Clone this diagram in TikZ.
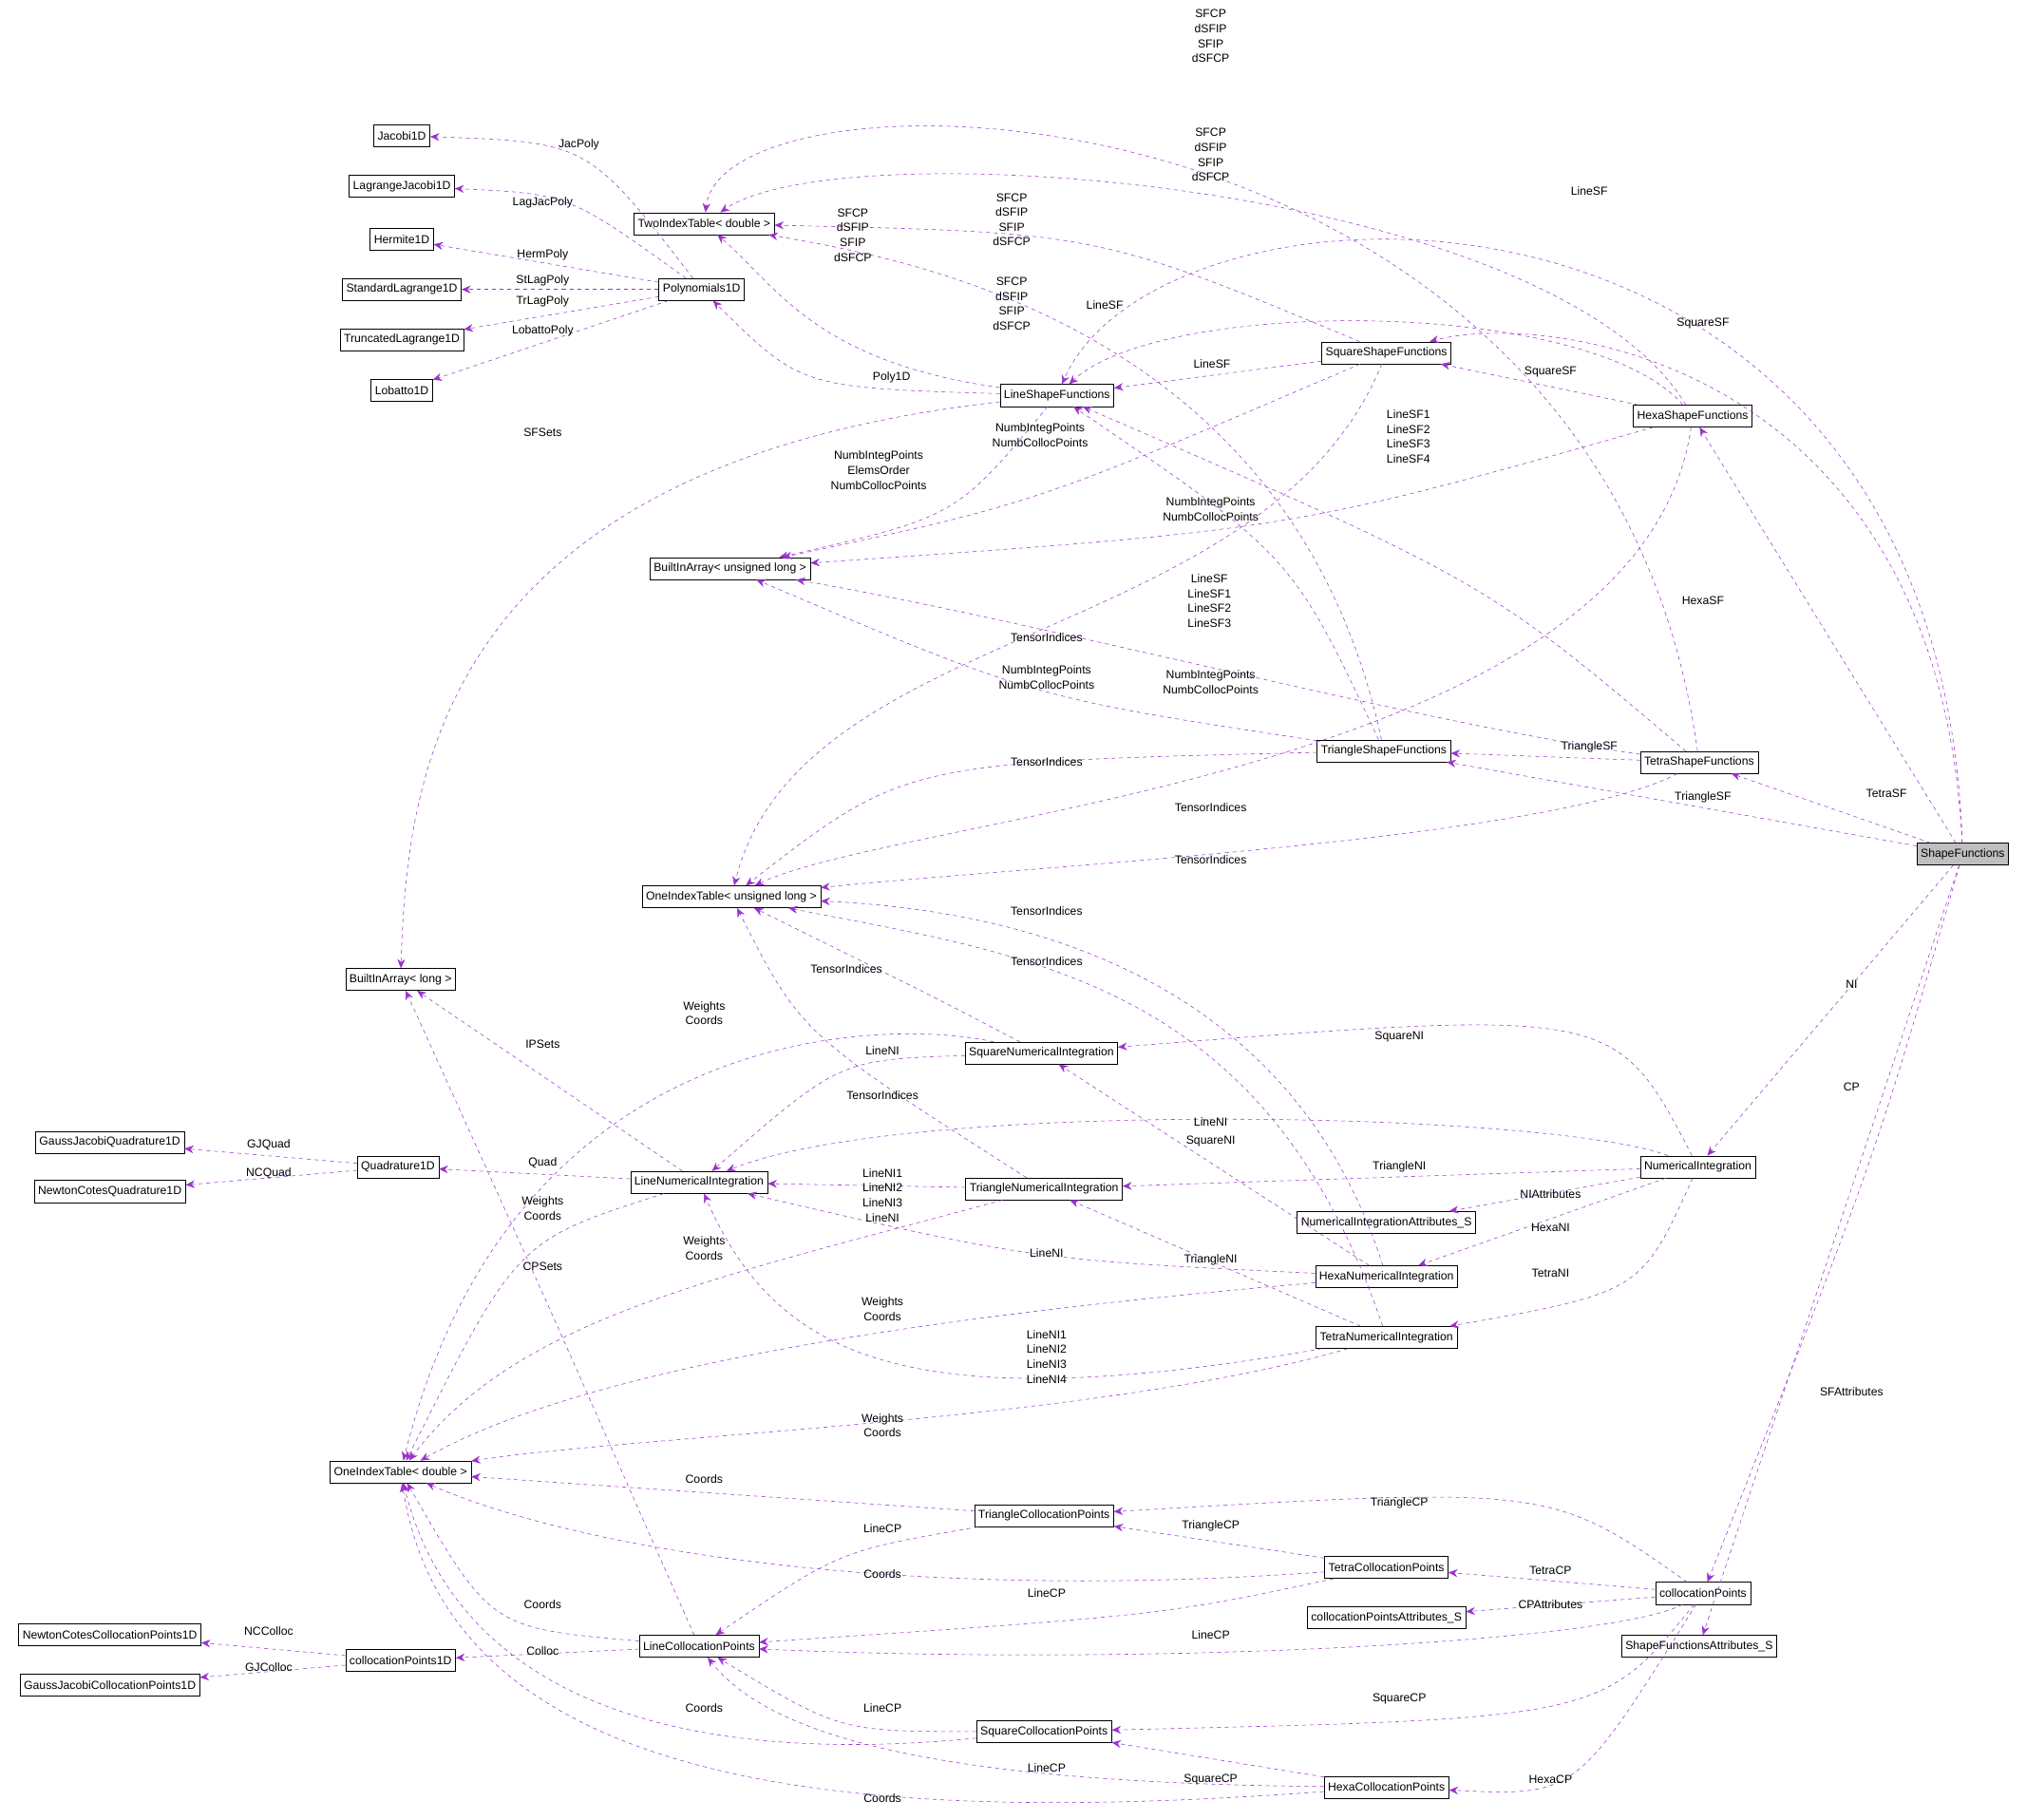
\documentclass[tikz,border=0pt]{standalone}
\usepackage{fontspec}
\setmainfont{Liberation Sans}
\usetikzlibrary{arrows.meta}
\definecolor{deppurple}{RGB}{154,50,205}
\tikzset{
  cls/.style={draw=black, fill=white, inner sep=3pt, minimum height=17pt, font=\fontsize{9}{11}\selectfont},
  dep/.style={draw=deppurple, dashed, -{Stealth[length=7pt,width=6pt,fill=deppurple]}},
  lbl/.style={font=\fontsize{9}{11.5}\selectfont, align=center, inner sep=1pt}
}
\begin{document}
\begin{tikzpicture}[x=1pt,y=-1pt]
  \useasboundingbox (0,0) rectangle (1568,1408);
  % classes
  \node[cls] (jac) at (311,105) {Jacobi1D};
  \node[cls] (lagj) at (311,144) {LagrangeJacobi1D};
  \node[cls] (herm) at (311,185) {Hermite1D};
  \node[cls] (stlag) at (311,224) {StandardLagrange1D};
  \node[cls] (trlag) at (311,263) {TruncatedLagrange1D};
  \node[cls] (lob) at (311,302) {Lobatto1D};
  \node[cls] (twoidx) at (545,173) {TwoIndexTable< double >};
  \node[cls] (poly) at (543,224) {Polynomials1D};
  \node[cls] (linesf) at (818,306) {LineShapeFunctions};
  \node[cls] (squaresf) at (1073,273) {SquareShapeFunctions};
  \node[cls] (hexasf) at (1310,322) {HexaShapeFunctions};
  \node[cls] (biaul) at (565,440) {BuiltInArray< unsigned long >};
  \node[cls] (trisf) at (1071,581) {TriangleShapeFunctions};
  \node[cls] (tetrasf) at (1315,590) {TetraShapeFunctions};
  \node[cls, fill=black!25] (sf) at (1519,661) {ShapeFunctions};
  \node[cls] (oiul) at (566,694) {OneIndexTable< unsigned long >};
  \node[cls] (bial) at (310,758) {BuiltInArray< long >};
  \node[cls] (squareni) at (806,815) {SquareNumericalIntegration};
  \node[cls] (gjq) at (85,884) {GaussJacobiQuadrature1D};
  \node[cls] (ncq) at (85,922) {NewtonCotesQuadrature1D};
  \node[cls] (quad) at (308,903) {Quadrature1D};
  \node[cls] (lineni) at (541,915) {LineNumericalIntegration};
  \node[cls] (triani) at (808,920) {TriangleNumericalIntegration};
  \node[cls] (ni) at (1314,903) {NumericalIntegration};
  \node[cls] (niattr) at (1073,946) {NumericalIntegrationAttributes\_S};
  \node[cls] (hexani) at (1073,988) {HexaNumericalIntegration};
  \node[cls] (tetrani) at (1073,1035) {TetraNumericalIntegration};
  \node[cls] (oid) at (310,1139) {OneIndexTable< double >};
  \node[cls] (tricp) at (808,1173) {TriangleCollocationPoints};
  \node[cls] (tetracp) at (1073,1213) {TetraCollocationPoints};
  \node[cls] (cp) at (1318,1233) {collocationPoints};
  \node[cls] (cpattr) at (1073,1252) {collocationPointsAttributes\_S};
  \node[cls] (sfattr) at (1315,1274) {ShapeFunctionsAttributes\_S};
  \node[cls] (nccp) at (85,1265) {NewtonCotesCollocationPoints1D};
  \node[cls] (cp1d) at (310,1285) {collocationPoints1D};
  \node[cls] (gjcp) at (85,1304) {GaussJacobiCollocationPoints1D};
  \node[cls] (linecp) at (541,1274) {LineCollocationPoints};
  \node[cls] (squarecp) at (808,1340) {SquareCollocationPoints};
  \node[cls] (hexacp) at (1073,1383) {HexaCollocationPoints};

  % polynomials
  \draw[dep] (poly) .. controls (455,110) .. (jac);
  \draw[dep] (poly) .. controls (440,150) .. (lagj);
  \draw[dep] (poly) -- (herm);
  \draw[dep] (poly) -- (stlag);
  \draw[dep] (poly) -- (trlag);
  \draw[dep] (poly) -- (lob);
  \node[lbl] (l1) at (448,112) {JacPoly};
  \node[lbl] (l2) at (420,157) {LagJacPoly};
  \node[lbl] (l3) at (420,197) {HermPoly};
  \node[lbl] (l4) at (420,217) {StLagPoly};
  \node[lbl] (l5) at (420,233) {TrLagPoly};
  \node[lbl] (l6) at (420,256) {LobattoPoly};

  % shape functions
  \draw[dep] (tetrasf) .. controls (1240,50) and (560,40) .. (twoidx);
  \draw[dep] (hexasf) .. controls (1200,140) and (650,100) .. (twoidx);
  \draw[dep] (squaresf) .. controls (850,180) .. (twoidx);
  \draw[dep] (trisf) .. controls (1000,250) and (700,200) .. (twoidx);
  \draw[dep] (linesf) .. controls (630,280) and (600,220) .. (twoidx);
  \node[lbl] at (937,28) {SFCP\\dSFIP\\SFIP\\dSFCP};
  \node[lbl] at (937,120) {SFCP\\dSFIP\\SFIP\\dSFCP};
  \node[lbl] at (783,170) {SFCP\\dSFIP\\SFIP\\dSFCP};
  \node[lbl] at (783,235) {SFCP\\dSFIP\\SFIP\\dSFCP};
  \node[lbl] at (660,182) {SFCP\\dSFIP\\SFIP\\dSFCP};
  \draw[dep] (sf) .. controls (1500,100) and (900,120) .. (linesf);
  \draw[dep] (squaresf) -- (linesf);
  \draw[dep] (hexasf) .. controls (1230,230) and (900,230) .. (linesf);
  \draw[dep] (tetrasf) .. controls (1150,450) .. (linesf);
  \draw[dep] (trisf) .. controls (1000,430) .. (linesf);
  \node[lbl] at (1230,148) {LineSF};
  \node[lbl] at (938,282) {LineSF};
  \node[lbl] at (855,236) {LineSF};
  \node[lbl] at (1090,338) {LineSF1\\LineSF2\\LineSF3\\LineSF4};
  \node[lbl] at (936,465) {LineSF\\LineSF1\\LineSF2\\LineSF3};
  \draw[dep] (sf) .. controls (1500,280) and (1200,240) .. (squaresf);
  \draw[dep] (hexasf) -- (squaresf);
  \draw[dep] (sf) -- (hexasf);
  \draw[dep] (sf) -- (trisf);
  \draw[dep] (tetrasf) -- (trisf);
  \draw[dep] (sf) -- (tetrasf);
  \node[lbl] at (1318,250) {SquareSF};
  \node[lbl] at (1200,288) {SquareSF};
  \node[lbl] at (1318,465) {HexaSF};
  \node[lbl] at (1318,617) {TriangleSF};
  \node[lbl] at (1230,578) {TriangleSF};
  \node[lbl] at (1460,614) {TetraSF};
  \draw[dep] (linesf) .. controls (620,300) .. (poly);
  \node[lbl] at (690,292) {Poly1D};
  \draw[dep] (linesf) .. controls (340,360) and (315,600) .. (bial);
  \node[lbl] at (420,335) {SFSets};

  % index arrays
  \draw[dep] (linesf) .. controls (740,400) .. (biaul);
  \draw[dep] (squaresf) .. controls (800,390) .. (biaul);
  \draw[dep] (hexasf) .. controls (1000,410) .. (biaul);
  \draw[dep] (trisf) .. controls (800,540) .. (biaul);
  \draw[dep] (tetrasf) .. controls (1100,560) and (800,480) .. (biaul);
  \node[lbl] at (680,364) {NumbIntegPoints\\ElemsOrder\\NumbCollocPoints};
  \node[lbl] at (805,337) {NumbIntegPoints\\NumbCollocPoints};
  \node[lbl] at (937,394) {NumbIntegPoints\\NumbCollocPoints};
  \node[lbl] at (810,524) {NumbIntegPoints\\NumbCollocPoints};
  \node[lbl] at (937,528) {NumbIntegPoints\\NumbCollocPoints};
  \draw[dep] (squaresf) .. controls (980,500) and (620,480) .. (oiul);
  \draw[dep] (trisf) .. controls (700,590) .. (oiul);
  \draw[dep] (hexasf) .. controls (1270,600) and (700,630) .. (oiul);
  \draw[dep] (tetrasf) .. controls (1200,650) and (800,670) .. (oiul);
  \draw[dep] (hexani) .. controls (1000,760) and (800,705) .. (oiul);
  \draw[dep] (tetrani) .. controls (980,760) and (800,740) .. (oiul);
  \draw[dep] (squareni) .. controls (720,770) .. (oiul);
  \draw[dep] (triani) .. controls (620,800) .. (oiul);
  \node[lbl] at (810,493) {TensorIndices};
  \node[lbl] at (810,590) {TensorIndices};
  \node[lbl] at (937,625) {TensorIndices};
  \node[lbl] at (937,665) {TensorIndices};
  \node[lbl] at (810,705) {TensorIndices};
  \node[lbl] at (810,744) {TensorIndices};
  \node[lbl] at (655,750) {TensorIndices};
  \node[lbl] at (683,848) {TensorIndices};

  % numerical integration
  \draw[dep] (sf) -- (ni);
  \draw[dep] (sf) .. controls (1450,900) .. (cp);
  \draw[dep] (sf) -- (sfattr);
  \node[lbl] at (1433,762) {NI};
  \node[lbl] at (1433,841) {CP};
  \node[lbl] at (1433,1077) {SFAttributes};
  \draw[dep] (ni) .. controls (1250,780) .. (squareni);
  \draw[dep] (ni) .. controls (1200,860) and (700,850) .. (lineni);
  \draw[dep] (ni) -- (triani);
  \draw[dep] (ni) -- (niattr);
  \draw[dep] (ni) -- (hexani);
  \draw[dep] (ni) .. controls (1270,1000) .. (tetrani);
  \node[lbl] at (1083,802) {SquareNI};
  \node[lbl] at (937,868) {LineNI};
  \node[lbl] at (1083,903) {TriangleNI};
  \node[lbl] at (1200,924) {NIAttributes};
  \node[lbl] at (1200,950) {HexaNI};
  \node[lbl] at (1200,985) {TetraNI};
  \draw[dep] (squareni) .. controls (650,820) .. (lineni);
  \draw[dep] (squareni) .. controls (700,790) and (400,780) .. (oid);
  \draw[dep] (hexani) -- (squareni);
  \draw[dep] (triani) -- (lineni);
  \draw[dep] (hexani) .. controls (800,975) .. (lineni);
  \draw[dep] (tetrani) .. controls (700,1100) and (600,1050) .. (lineni);
  \draw[dep] (tetrani) -- (triani);
  \node[lbl] at (683,813) {LineNI};
  \node[lbl] at (545,784) {Weights\\Coords};
  \node[lbl] at (937,883) {SquareNI};
  \node[lbl] at (683,925) {LineNI1\\LineNI2\\LineNI3\\LineNI};
  \node[lbl] at (810,970) {LineNI};
  \node[lbl] at (810,1050) {LineNI1\\LineNI2\\LineNI3\\LineNI4};
  \node[lbl] at (937,975) {TriangleNI};
  \draw[dep] (lineni) -- (bial);
  \draw[dep] (lineni) -- (quad);
  \draw[dep] (lineni) .. controls (400,960) .. (oid);
  \draw[dep] (triani) .. controls (550,990) and (400,1020) .. (oid);
  \draw[dep] (hexani) .. controls (700,1020) and (450,1060) .. (oid);
  \draw[dep] (tetrani) .. controls (850,1100) and (500,1110) .. (oid);
  \draw[dep] (quad) -- (gjq);
  \draw[dep] (quad) -- (ncq);
  \node[lbl] at (420,808) {IPSets};
  \node[lbl] at (420,900) {Quad};
  \node[lbl] at (420,935) {Weights\\Coords};
  \node[lbl] at (545,966) {Weights\\Coords};
  \node[lbl] at (683,1013) {Weights\\Coords};
  \node[lbl] at (683,1103) {Weights\\Coords};
  \node[lbl] at (208,886) {GJQuad};
  \node[lbl] at (208,908) {NCQuad};

  % collocation points
  \draw[dep] (linecp) .. controls (420,1000) .. (bial);
  \draw[dep] (linecp) .. controls (380,1260) .. (oid);
  \draw[dep] (linecp) -- (cp1d);
  \draw[dep] (cp1d) -- (nccp);
  \draw[dep] (cp1d) -- (gjcp);
  \node[lbl] at (420,980) {CPSets};
  \node[lbl] at (420,1242) {Coords};
  \node[lbl] at (420,1278) {Colloc};
  \node[lbl] at (208,1262) {NCColloc};
  \node[lbl] at (208,1290) {GJColloc};
  \draw[dep] (tricp) -- (oid);
  \draw[dep] (tricp) .. controls (650,1200) .. (linecp);
  \draw[dep] (tetracp) .. controls (700,1240) and (450,1200) .. (oid);
  \draw[dep] (tetracp) -- (tricp);
  \draw[dep] (tetracp) .. controls (900,1250) .. (linecp);
  \draw[dep] (squarecp) .. controls (500,1370) and (350,1300) .. (oid);
  \draw[dep] (squarecp) .. controls (650,1340) .. (linecp);
  \draw[dep] (hexacp) .. controls (700,1410) and (350,1400) .. (oid);
  \draw[dep] (hexacp) .. controls (750,1380) and (600,1350) .. (linecp);
  \draw[dep] (hexacp) -- (squarecp);
  \node[lbl] at (545,1145) {Coords};
  \node[lbl] at (683,1183) {LineCP};
  \node[lbl] at (683,1218) {Coords};
  \node[lbl] at (937,1181) {TriangleCP};
  \node[lbl] at (810,1233) {LineCP};
  \node[lbl] at (545,1322) {Coords};
  \node[lbl] at (683,1322) {LineCP};
  \node[lbl] at (683,1392) {Coords};
  \node[lbl] at (810,1368) {LineCP};
  \node[lbl] at (937,1377) {SquareCP};
  \draw[dep] (cp) .. controls (1200,1150) .. (tricp);
  \draw[dep] (cp) -- (tetracp);
  \draw[dep] (cp) -- (cpattr);
  \draw[dep] (cp) .. controls (1250,1270) and (900,1290) .. (linecp);
  \draw[dep] (cp) .. controls (1240,1330) .. (squarecp);
  \draw[dep] (cp) .. controls (1220,1390) .. (hexacp);
  \node[lbl] at (1083,1163) {TriangleCP};
  \node[lbl] at (1200,1215) {TetraCP};
  \node[lbl] at (1200,1242) {CPAttributes};
  \node[lbl] at (937,1265) {LineCP};
  \node[lbl] at (1083,1315) {SquareCP};
  \node[lbl] at (1200,1377) {HexaCP};
\end{tikzpicture}
\end{document}
